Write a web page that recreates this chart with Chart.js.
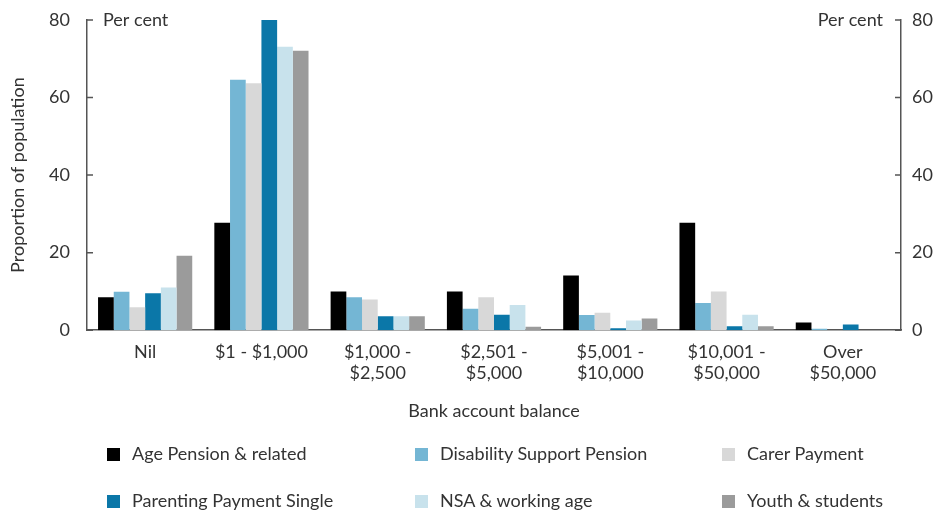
<!DOCTYPE html>
<html>
<head>
<meta charset="utf-8">
<script src="https://cdn.jsdelivr.net/npm/chart.js@4.4.1/dist/chart.umd.min.js"></script>
<style>
  body { margin: 0; background: #fff; }
  #wrap { position: relative; width: 936px; height: 514px; font-family: Lato, sans-serif; color: #333; }
  #legend { position: absolute; left: 0; top: 0; width: 936px; height: 514px; pointer-events: none; }
  .item { position: absolute; font-size: 18px; line-height: 22px; white-space: nowrap; }
  .box { display: inline-block; width: 13px; height: 13px; margin-right: 12px; vertical-align: -1px; }
</style>
</head>
<body>
<div id="wrap">
  <canvas id="grafica" width="936" height="430"></canvas>
  <div id="legend"></div>
</div>
<script>
// categorias y series
const categorias = ["Nil", "$1 - $1,000", ["$1,000 -", "$2,500"], ["$2,501 -", "$5,000"],
  ["$5,001 -", "$10,000"], ["$10,001 -", "$50,000"], ["Over", "$50,000"]];
const agePension = [8.5, 27.7, 10.0, 10.0, 14.1, 27.7, 2.0];
const disability = [9.9, 64.6, 8.5, 5.5, 3.9, 7.0, 0.4];
const carer = [5.9, 63.7, 7.9, 8.5, 4.5, 10.0, 0];
const parenting = [9.5, 80.0, 3.6, 4.0, 0.5, 1.0, 1.5];
const nsa = [11.0, 73.1, 3.6, 6.5, 2.5, 4.0, 0];
const youth = [19.2, 72.1, 3.6, 0.9, 3.0, 1.0, 0];
const yTicks = [0, 20, 40, 60, 80];

const textColor = "#333";
const axisColor = "#555";
const fuente = { family: "Lato", size: 18 };

const series = [
  { label: "Age Pension & related", data: agePension, color: "#000000" },
  { label: "Disability Support Pension", data: disability, color: "#74b6d4" },
  { label: "Carer Payment", data: carer, color: "#d8d8d8" },
  { label: "Parenting Payment Single", data: parenting, color: "#0b77a8" },
  { label: "NSA & working age", data: nsa, color: "#c8e2ec" },
  { label: "Youth & students", data: youth, color: "#9b9b9b" }
];

// ticks hacia adentro + "Per cent"
const marcas = {
  id: "marcas",
  afterDraw(chart) {
    const ctx = chart.ctx;
    const area = chart.chartArea;
    const y = chart.scales.y;
    ctx.save();
    ctx.strokeStyle = axisColor;
    ctx.lineWidth = 1.5;
    yTicks.forEach(function (v) {
      const py = y.getPixelForValue(v);
      ctx.beginPath();
      ctx.moveTo(area.left, py); ctx.lineTo(area.left + 6, py);
      ctx.moveTo(area.right, py); ctx.lineTo(area.right - 6, py);
      ctx.stroke();
    });
    ctx.fillStyle = textColor;
    ctx.font = "18px Lato";
    ctx.textBaseline = "middle";
    const top = y.getPixelForValue(80);
    ctx.textAlign = "left";
    ctx.fillText("Per cent", area.left + 16, top);
    ctx.textAlign = "right";
    ctx.fillText("Per cent", area.right - 18, top);
    ctx.restore();
  }
};

const chart = new Chart(document.getElementById("grafica"), {
  type: "bar",
  data: {
    labels: categorias,
    datasets: series.map(function (s) {
      return { label: s.label, data: s.data, backgroundColor: s.color, borderWidth: 0,
        categoryPercentage: 0.81, barPercentage: 1.0 };
    })
  },
  options: {
    responsive: false,
    animation: false,
    layout: { padding: { top: 20, left: 3, right: 0, bottom: 8 } },
    plugins: { legend: { display: false }, tooltip: { enabled: false } },
    scales: {
      x: {
        grid: { display: false, drawTicks: false },
        border: { display: true, color: axisColor, width: 1.5 },
        ticks: { color: textColor, font: fuente, padding: 11, maxRotation: 0, autoSkip: false },
        title: { display: true, text: "Bank account balance", color: textColor, font: fuente,
          padding: { top: 5, bottom: 0 } }
      },
      y: {
        position: "left",
        min: 0, max: 80,
        grid: { display: false, drawTicks: false },
        border: { display: true, color: axisColor, width: 1.5 },
        ticks: { stepSize: 20, color: textColor, font: fuente, padding: 17 },
        title: { display: true, text: "Proportion of population", color: textColor, font: fuente,
          padding: { top: 4, bottom: 2 } },
        afterFit: function (scale) { scale.width = 84; scale.paddingTop = 0; scale.paddingBottom = 0; }
      },
      y2: {
        position: "right",
        display: true,
        min: 0, max: 80,
        grid: { display: false, drawTicks: false },
        border: { display: true, color: axisColor, width: 1.5 },
        ticks: { stepSize: 20, color: textColor, font: fuente, padding: 11 },
        afterFit: function (scale) { scale.width = 35; scale.paddingTop = 0; scale.paddingBottom = 0; }
      }
    }
  },
  plugins: [marcas]
});

// leyenda en HTML, 3 columnas
const legend = document.getElementById("legend");
const colX = [107, 415, 722];
const rowY = [442, 489];
chart.data.datasets.forEach(function (ds, i) {
  const div = document.createElement("div");
  div.className = "item";
  div.style.left = colX[i % 3] + "px";
  div.style.top = rowY[Math.floor(i / 3)] + "px";
  div.innerHTML = '<span class="box" style="background:' + ds.backgroundColor + '"></span>' + ds.label;
  legend.appendChild(div);
});
</script>
</body>
</html>
